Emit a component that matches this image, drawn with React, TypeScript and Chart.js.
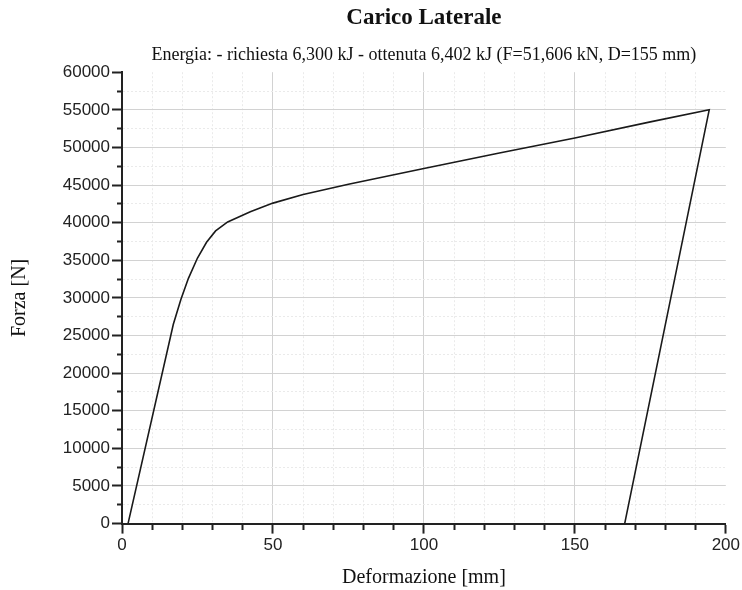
import React, { useEffect, useRef } from 'react';
import { Chart, registerables } from 'chart.js';

Chart.register(...registerables);

const titleText = 'Carico Laterale';
const subtitleText = 'Energia: - richiesta 6,300 kJ - ottenuta 6,402 kJ (F=51,606 kN, D=155 mm)';
const xAxisTitle = 'Deformazione [mm]';
const yAxisTitle = 'Forza [N]';

const deformazioneMm = [2, 17, 19.5, 22, 25, 28, 31, 35, 42.5, 50, 60, 75, 100, 125, 150, 175, 194.5, 166.5];
const forzaN = [0, 26500, 29800, 32600, 35300, 37400, 38900, 40100, 41450, 42600, 43750, 45100, 47200, 49250, 51250, 53400, 55000, 0];

const xMin = 0;
const xMax = 200;
const xStep = 10;
const xMajor = 50;
const yMin = 0;
const yMax = 60000;
const yStep = 2500;
const yMajor = 5000;

const serif = "'Liberation Serif', 'Times New Roman', serif";
const sans = "'Liberation Sans', Arial, sans-serif";

export default function App() {
  const ref = useRef<HTMLCanvasElement>(null);

  useEffect(() => {
    document.body.style.margin = '0';
    const points = deformazioneMm.map((x, i) => ({ x, y: forzaN[i] }));

    const gridColor = (major: number, max: number) => (c: any) => {
      if (!c.tick) return 'transparent';
      const v = c.tick.value;
      if (v === max) return 'transparent';
      return v % major === 0 ? '#d2d2d2' : '#eaeaea';
    };
    const gridDash = (major: number) => (c: any) =>
      c.tick && c.tick.value % major !== 0 ? [2, 2] : [];
    const tickDashX = (c: any) => (c.tick && c.tick.value % xMajor !== 0 ? [5, 100] : []);
    const tickDashY = (c: any) => (c.tick && c.tick.value % yMajor !== 0 ? [0, 5, 5, 100] : []);

    const chart = new Chart(ref.current!, {
      type: 'scatter',
      data: {
        datasets: [
          {
            data: points,
            showLine: true,
            borderColor: '#1a1a1a',
            borderWidth: 1.6,
            pointRadius: 0,
            fill: false,
            tension: 0,
          },
        ],
      },
      options: {
        animation: false,
        responsive: true,
        maintainAspectRatio: false,
        layout: { padding: { top: 4, right: 14, left: 0, bottom: 0 } },
        plugins: {
          legend: { display: false },
          tooltip: { enabled: false },
          title: {
            display: true,
            text: titleText,
            fullSize: false,
            color: '#111',
            font: { family: serif, size: 23, weight: 'bold' },
            padding: { top: 0, bottom: 13 },
          },
          subtitle: {
            display: true,
            text: subtitleText,
            fullSize: false,
            color: '#111',
            font: { family: serif, size: 18 },
            padding: { top: 0, bottom: 6 },
          },
        },
        scales: {
          x: {
            type: 'linear',
            min: xMin,
            max: xMax,
            ticks: {
              stepSize: xStep,
              autoSkip: false,
              maxRotation: 0,
              color: '#222',
              padding: 2,
              font: { family: sans, size: 17 },
              callback: (v: any) => (Number(v) % xMajor === 0 ? String(v) : ''),
            },
            grid: {
              color: gridColor(xMajor, xMax) as any,
              lineWidth: 1,
              tickLength: 10,
              tickColor: '#222',
              tickWidth: 2,
              tickBorderDash: tickDashX as any,
            },
            border: { display: true, color: '#222', width: 2, dash: gridDash(xMajor) as any },
            title: {
              display: true,
              text: xAxisTitle,
              color: '#111',
              font: { family: serif, size: 20 },
              padding: { top: 8, bottom: 0 },
            },
          },
          y: {
            type: 'linear',
            min: yMin,
            max: yMax,
            afterFit: (s: any) => {
              s.width = 122;
            },
            ticks: {
              stepSize: yStep,
              autoSkip: false,
              color: '#222',
              padding: 2,
              font: { family: sans, size: 17 },
              callback: (v: any) => (Number(v) % yMajor === 0 ? String(v) : ''),
            },
            grid: {
              color: gridColor(yMajor, yMax) as any,
              lineWidth: 1,
              tickLength: 10,
              tickColor: '#222',
              tickWidth: 2,
              tickBorderDash: tickDashY as any,
            },
            border: { display: true, color: '#222', width: 2, dash: gridDash(yMajor) as any },
            title: {
              display: true,
              text: yAxisTitle,
              color: '#111',
              font: { family: serif, size: 20 },
              padding: { top: 8, bottom: 0 },
            },
          },
        },
      },
    });
    return () => chart.destroy();
  }, []);

  return (
    <div style={{ width: 742, height: 590, position: 'relative', background: '#fff' }}>
      <canvas ref={ref} />
    </div>
  );
}
